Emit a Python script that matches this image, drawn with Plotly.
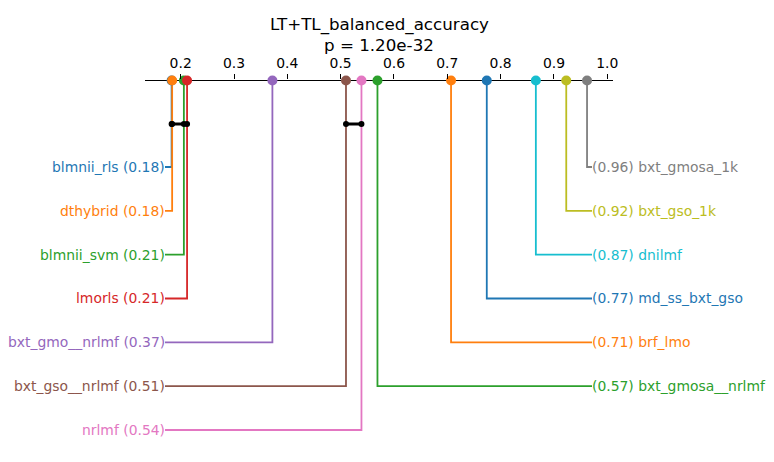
import plotly.graph_objects as go

# ---- data ----
methods = ["blmnii_rls", "dthybrid", "blmnii_svm", "lmorls", "bxt_gmo__nrlmf",
           "bxt_gso__nrlmf", "nrlmf", "bxt_gmosa__nrlmf", "brf_lmo", "md_ss_bxt_gso",
           "dnilmf", "bxt_gso_1k", "bxt_gmosa_1k"]
ranks = [0.183, 0.184, 0.206, 0.212, 0.372, 0.510, 0.539, 0.569, 0.707, 0.774,
         0.866, 0.923, 0.962]
cliques = [["blmnii_rls", "dthybrid", "blmnii_svm", "lmorls"],
           ["bxt_gso__nrlmf", "nrlmf"]]
tick_vals = [0.2, 0.3, 0.4, 0.5, 0.6, 0.7, 0.8, 0.9, 1.0]
tick_text = ["0.2", "0.3", "0.4", "0.5", "0.6", "0.7", "0.8", "0.9", "1.0"]
title_lines = ["LT+TL_balanced_accuracy", "p = 1.20e-32"]

palette = ["#1f77b4", "#ff7f0e", "#2ca02c", "#d62728", "#9467bd", "#8c564b",
           "#e377c2", "#7f7f7f", "#bcbd22", "#17becf"]

FONT = "DejaVu Sans"
W, H = 774, 462
AX_TOP = 80
# pixel mapping of x: x(v) = 234 + (v-0.3)*533.3
scale = 533.3
v0 = 0.3 - 234 / scale
v1 = 0.3 + (W - 234) / scale
axis_lo, axis_hi = 0.3 + (145 - 234) / scale, 0.3 + (613 - 234) / scale
left_x = 0.3 + (165 - 234) / scale
right_x = 0.3 + (592 - 234) / scale
row0, row_step = 87, 43.83
clique_y = 44

order = sorted(range(len(methods)), key=lambda i: ranks[i])
n = len(methods)
n_left = (n + 1) // 2
left = order[:n_left]
right = order[n_left:][::-1]

fig = go.Figure()
# axis line
fig.add_trace(go.Scatter(x=[axis_lo, axis_hi], y=[0.5, 0.5], mode="lines",
                         line=dict(color="black", width=1.1), hoverinfo="skip",
                         showlegend=False, cliponaxis=False))

annotations = []
draw = []
for row, i in enumerate(left):
    draw.append((i, row, "L", row))
for row, i in enumerate(right):
    draw.append((i, n_left + row, "R", row))

for i, ci, side, row in draw:
    col = palette[ci % 10]
    y = row0 + row * row_step
    xe = left_x if side == "L" else right_x
    fig.add_trace(go.Scatter(x=[ranks[i], ranks[i], xe], y=[0, y, y], mode="lines",
                             line=dict(color=col, width=1.8), hoverinfo="skip",
                             showlegend=False, cliponaxis=False))
    if side == "L":
        txt = f"{methods[i]} ({ranks[i]:.2f})"
        annotations.append(dict(x=xe, y=y, xref="x", yref="y", text=txt, showarrow=False,
                                xanchor="right", yanchor="middle", xshift=1, borderpad=0,
                                font=dict(family=FONT, size=13.9, color=col)))
    else:
        txt = f"({ranks[i]:.2f}) {methods[i]}"
        annotations.append(dict(x=xe, y=y, xref="x", yref="y", text=txt, showarrow=False,
                                xanchor="left", yanchor="middle", xshift=-1, borderpad=0,
                                font=dict(family=FONT, size=13.9, color=col)))

# dots on axis
for i, ci, side, row in draw:
    col = palette[ci % 10]
    fig.add_trace(go.Scatter(x=[ranks[i]], y=[0.5], mode="markers",
                             marker=dict(color=col, size=10, line=dict(width=0)),
                             hoverinfo="skip", showlegend=False, cliponaxis=False))

# cliques
for cl in cliques:
    xs = sorted(ranks[methods.index(m)] for m in cl)
    fig.add_trace(go.Scatter(x=xs, y=[clique_y] * len(xs), mode="lines+markers",
                             line=dict(color="black", width=3),
                             marker=dict(color="black", size=6),
                             hoverinfo="skip", showlegend=False, cliponaxis=False))

title_x = ((145 + 613) / 2) / W
for k, t in enumerate(title_lines):
    py = 25 + 20 * k
    annotations.append(dict(x=title_x, y=(H - py) / (H - AX_TOP), xref="paper", yref="paper",
                            text=t, showarrow=False, xanchor="center", yanchor="middle",
                            font=dict(family=FONT, size=16.7, color="black")))

fig.update_layout(
    width=W, height=H, margin=dict(l=0, r=0, t=AX_TOP, b=0),
    paper_bgcolor="white", plot_bgcolor="white",
    annotations=annotations,
    xaxis=dict(range=[v0, v1], side="top", showgrid=False, zeroline=False,
               showline=False, ticks="outside", ticklen=5, tickwidth=1.1,
               tickcolor="black", tickvals=tick_vals, ticktext=tick_text,
               tickfont=dict(family=FONT, size=13.9, color="black")),
    yaxis=dict(range=[H - AX_TOP, 0], visible=False, showgrid=False, zeroline=False),
)
fig.write_html("out.html")
